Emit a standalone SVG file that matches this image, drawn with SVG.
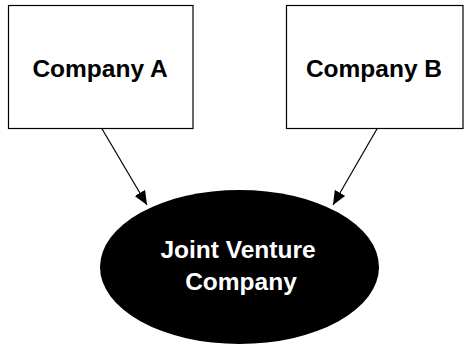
<svg xmlns="http://www.w3.org/2000/svg" width="465" height="345" viewBox="0 0 465 345">
<style>
.box{fill:#fff;stroke:#000;stroke-width:1.2}
.lbl{font-family:"Liberation Sans",Arial,sans-serif;font-weight:bold;font-size:24.5px;text-anchor:middle}
.edge{stroke:#000;stroke-width:1.2;fill:none;marker-end:url(#ah)}
</style>
<defs>
<marker id="ah" viewBox="0 0 14 12" refX="14" refY="6" markerWidth="14" markerHeight="12" markerUnits="userSpaceOnUse" orient="auto">
<path d="M0,0 L14,6 L0,12 z" fill="#000"/>
</marker>
</defs>
<rect width="465" height="345" fill="#fff"/>
<g id="connectors">
<line class="edge" x1="101.5" y1="128" x2="147" y2="205"/>
<line class="edge" x1="377.5" y1="128" x2="333" y2="205"/>
</g>
<g id="companyA">
<rect class="box" x="8.5" y="5.5" width="184.5" height="123"/>
<text class="lbl" x="100" y="77">Company A</text>
</g>
<g id="companyB">
<rect class="box" x="286.5" y="5.5" width="176.5" height="123"/>
<text class="lbl" x="374" y="77">Company B</text>
</g>
<g id="jv">
<ellipse cx="239.5" cy="267" rx="139.5" ry="77" fill="#000"/>
<text class="lbl" x="238" y="258" fill="#fff">Joint Venture</text>
<text class="lbl" x="241" y="290" fill="#fff">Company</text>
</g>
</svg>
